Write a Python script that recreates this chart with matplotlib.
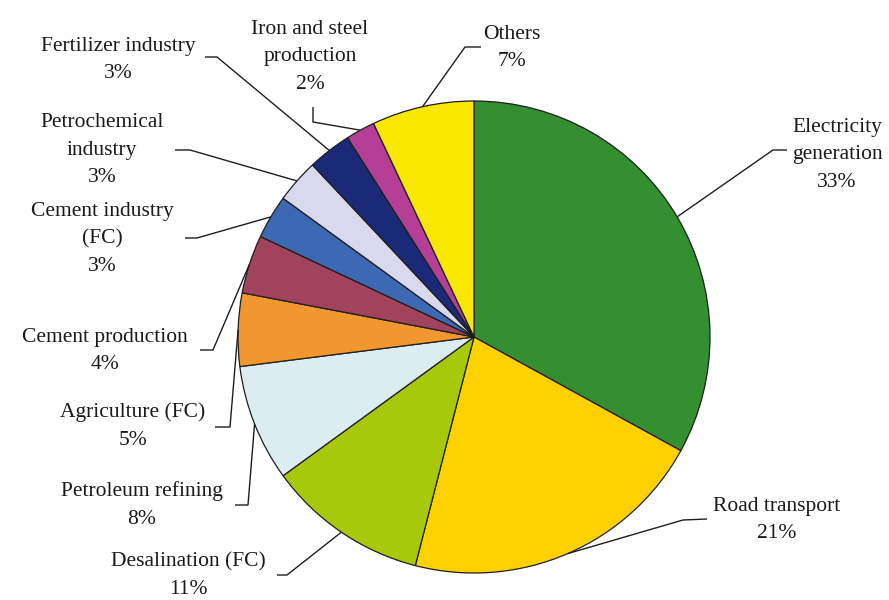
import numpy as np
import matplotlib.pyplot as plt

# sectors, clockwise from 12 o'clock
sectors = ["Electricity\ngeneration", "Road transport", "Desalination (FC)",
           "Petroleum refining", "Agriculture (FC)", "Cement production",
           "Cement industry\n(FC)", "Petrochemical\nindustry", "Fertilizer industry",
           "Iron and steel\nproduction", "Others"]
shares = [33, 21, 11, 8, 5, 4, 3, 3, 3, 2, 7]
colors = ["#338f2f", "#fdd000", "#a7c80b", "#dcedf1", "#f1972f", "#a1435c",
          "#3d68b3", "#d9d9ee", "#1b2a78", "#b53e97", "#f8e700"]

# label layout in pixel space (y measured from the top): text centre, elbow, end of tick
text_pos = [(837, 155), (777, 520), (188, 576), (142, 505), (133, 426), (105, 351),
            (102, 239), (102, 150), (118, 60), (310, 57), (512, 48)]
elbow = [(773, 150), (683, 520), (287, 575), (248, 505), (230, 427), (213, 350),
         (197, 238), (190, 150), (217, 57), (313, 122), (465, 47)]
tick_end = [(787, 150), (707, 519), (277, 575), (235, 505), (215, 427), (200, 350),
            (185, 238), (175, 150), (205, 57), (313, 107), (481, 47)]

W, H = 889, 600
cx, cy, R = 474, 337, 236

plt.rcParams['font.family'] = ['Liberation Serif', 'DejaVu Serif']
fig = plt.figure(figsize=(W / 100, H / 100), dpi=100)
ax = fig.add_axes([0, 0, 1, 1])

wedges, _ = ax.pie(shares, colors=colors, startangle=90, counterclock=False,
                   center=(cx, H - cy), radius=R,
                   wedgeprops=dict(edgecolor="#1e1e1e", linewidth=0.9))

for w, name, v, tp, el, te in zip(wedges, sectors, shares, text_pos, elbow, tick_end):
    # leader from the middle of the wedge's arc to the label
    mid = np.deg2rad((w.theta1 + w.theta2) / 2)
    x0 = cx + R * np.cos(mid)
    y0 = (H - cy) + R * np.sin(mid)
    ax.plot([x0, el[0], te[0]], [y0, H - el[1], H - te[1]],
            color="#1e1e1e", lw=1.0, solid_capstyle="butt")
    ax.text(tp[0], H - tp[1], f"{name}\n{v}%", ha="center", va="center",
            fontsize=15.5, color="#1a1a1a", linespacing=1.6)

ax.set_xlim(0, W)
ax.set_ylim(0, H)
ax.set_aspect("equal")
ax.axis("off")
fig.savefig("out.png", dpi=100, facecolor="white")
